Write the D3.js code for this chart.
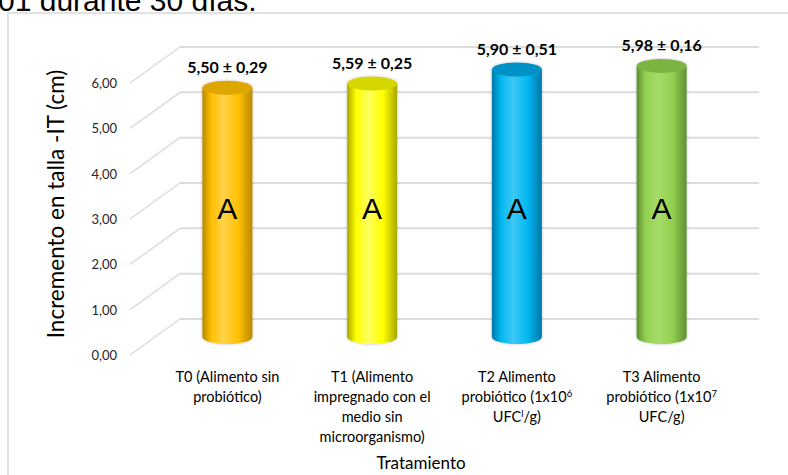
<!DOCTYPE html>
<html>
<head>
<meta charset="utf-8">
<script src="https://cdn.jsdelivr.net/npm/d3@7"></script>
<style>
  body { margin: 0; background: #fff; }
  svg { display: block; }
</style>
</head>
<body>
<div id="chart-holder"></div>
<script>
// ****DATA****
const categories = [
    ["T0 (Alimento sin", "probiótico)"],
    ["T1 (Alimento", "impregnado con el", "medio sin", "microorganismo)"],
    ["T2 Alimento", "probiótico (1x10^6", "UFC^l/g)"],
    ["T3 Alimento", "probiótico (1x10^7", "UFC/g)"]
];
const values = [5.50, 5.59, 5.90, 5.98];
const errors = [0.29, 0.25, 0.51, 0.16];
const letters = ["A", "A", "A", "A"];
const yTicks = [0, 1, 2, 3, 4, 5, 6];
const barColors = [
    {mid: "#ffc000", light: "#ffd24a", edge: "#b88a00", top: "#e0a600"},
    {mid: "#ffff00", light: "#ffff60", edge: "#a8a800", top: "#d6d600"},
    {mid: "#00b8f0", light: "#3cc8f5", edge: "#0077a8", top: "#0092c6"},
    {mid: "#92d050", light: "#a6dc6a", edge: "#5f8f33", top: "#7cb443"}
];

// ****CANVAS****
const width = 788;
const height = 475;
const backLeft = 180, backRight = 759;
const depthX = -50, depthY = 36; // oblique offset of the side wall

const svg = d3.select('#chart-holder')
    .append('svg')
    .attr('width', width)
    .attr('height', height);

// title cut off at the top of the picture
svg.append('text')
    .attr('x', -2)
    .attr('y', 11)
    .style('font-family', '"Liberation Sans", Arial, sans-serif')
    .style('font-size', '30px')
    .attr('fill', '#000')
    .text('01 durante 30 días.');

// chart frame
svg.append('rect')
    .attr('x', 8)
    .attr('y', 13)
    .attr('width', 800)
    .attr('height', 500)
    .attr('fill', 'none')
    .attr('stroke', '#d9d9d9')
    .attr('stroke-width', 1.5);

// ****SCALES****
const yScale = d3.scaleLinear()
    .domain([0, 6])
    .range([319, 47]);
// bars sit halfway into the depth
const yBar = v => yScale(v) + depthY / 2;
const xScale = d3.scaleBand()
    .domain(d3.range(categories.length))
    .range([backLeft + depthX / 2, backRight + depthX / 2]);
const xMid = i => xScale(i) + xScale.bandwidth() / 2;

const fmt = d3.formatLocale({decimal: ",", thousands: ".", grouping: [3], currency: ["", ""]}).format(".2f");

// ****GRID****
const grid = svg.append('g').attr('id', 'grid');
grid.selectAll('line.back')
    .data(yTicks)
    .join('line')
    .attr('class', 'back')
    .attr('x1', backLeft)
    .attr('x2', backRight)
    .attr('y1', d => yScale(d))
    .attr('y2', d => yScale(d))
    .attr('stroke', '#dcdcdc')
    .attr('stroke-width', 2);
grid.selectAll('line.side')
    .data(yTicks)
    .join('line')
    .attr('class', 'side')
    .attr('x1', backLeft)
    .attr('x2', backLeft + depthX)
    .attr('y1', d => yScale(d))
    .attr('y2', d => yScale(d) + depthY)
    .attr('stroke', '#dcdcdc')
    .attr('stroke-width', 1.5);

// tick labels
svg.append('g')
    .selectAll('text')
    .data(yTicks)
    .join('text')
    .attr('x', backLeft + depthX - 13)
    .attr('y', d => yScale(d) + depthY + 5)
    .attr('text-anchor', 'end')
    .style('font-family', 'Lato, sans-serif')
    .style('font-size', '13px')
    .attr('fill', '#262626')
    .text(d => fmt(d));

// ****CYLINDERS****
const defs = svg.append('defs');
barColors.forEach(function(c, i) {
    const g = defs.append('linearGradient')
        .attr('id', 'body' + i)
        .attr('x1', '0%').attr('x2', '100%')
        .attr('y1', '0%').attr('y2', '0%');
    g.append('stop').attr('offset', '0%').attr('stop-color', c.edge);
    g.append('stop').attr('offset', '18%').attr('stop-color', c.mid);
    g.append('stop').attr('offset', '42%').attr('stop-color', c.light);
    g.append('stop').attr('offset', '72%').attr('stop-color', c.mid);
    g.append('stop').attr('offset', '100%').attr('stop-color', c.edge);
});
const shadow = defs.append('filter')
    .attr('id', 'halo')
    .attr('x', '-30%').attr('y', '-10%')
    .attr('width', '160%').attr('height', '120%');
shadow.append('feDropShadow')
    .attr('dx', 0).attr('dy', 0)
    .attr('stdDeviation', 1.5)
    .attr('flood-color', '#000')
    .attr('flood-opacity', 0.25);

const rx = 25, ry = 7;
const bars = svg.append('g')
    .selectAll('g')
    .data(values)
    .join('g')
    .attr('filter', 'url(#halo)');

bars.append('path')
    .attr('fill', (d, i) => `url(#body${i})`)
    .attr('d', function(d, i) {
        const cx = xMid(i);
        const ty = yBar(d), by = yBar(0);
        return `M${cx - rx},${ty} L${cx - rx},${by} A${rx},${ry} 0 0 0 ${cx + rx},${by} L${cx + rx},${ty} Z`;
    });
bars.append('ellipse')
    .attr('cx', (d, i) => xMid(i))
    .attr('cy', d => yBar(d))
    .attr('rx', rx)
    .attr('ry', ry)
    .attr('fill', (d, i) => barColors[i].top);

// value labels
svg.append('g')
    .selectAll('text')
    .data(values)
    .join('text')
    .attr('x', (d, i) => xMid(i))
    .attr('y', d => yBar(d) - 15)
    .attr('text-anchor', 'middle')
    .style('font-family', 'Lato, sans-serif')
    .style('font-weight', 700)
    .style('font-size', '16px')
    .attr('fill', '#000')
    .text((d, i) => `${fmt(d)} ± ${fmt(errors[i])}`);

// significance letters
svg.append('g')
    .selectAll('text')
    .data(letters)
    .join('text')
    .attr('x', (d, i) => xMid(i))
    .attr('y', yScale(2.2))
    .attr('text-anchor', 'middle')
    .style('font-family', '"Liberation Sans", Arial, sans-serif')
    .style('font-size', '30px')
    .attr('fill', '#000')
    .text(d => d);

// ****CATEGORY LABELS****
// one text per line; "^x" marks a superscript character
const catGroup = svg.append('g')
    .style('font-family', 'Lato, sans-serif')
    .style('font-size', '14.5px')
    .attr('fill', '#000');
categories.forEach(function(lines, i) {
    lines.forEach(function(line, j) {
        const t = catGroup.append('text')
            .attr('text-anchor', 'middle')
            .attr('x', xMid(i))
            .attr('y', 382 + 20 * j);
        line.split(/(\^.)/).forEach(function(p) {
            if (p === '') return;
            if (p[0] === '^') {
                t.append('tspan')
                    .attr('baseline-shift', '5')
                    .style('font-size', '9.5px')
                    .text(p[1]);
            } else {
                t.append('tspan').text(p);
            }
        });
    });
});

// ****AXIS TITLES****
svg.append('text')
    .attr('transform', 'rotate(-90)')
    .attr('x', -204)
    .attr('y', 64)
    .attr('text-anchor', 'middle')
    .style('font-family', 'Lato, sans-serif')
    .style('font-size', '22.5px')
    .attr('fill', '#000')
    .text('Incremento en talla -IT (cm)');

svg.append('text')
    .attr('x', 421)
    .attr('y', 469)
    .attr('text-anchor', 'middle')
    .style('font-family', 'Lato, sans-serif')
    .style('font-size', '17px')
    .attr('fill', '#000')
    .text('Tratamiento');
</script>
</body>
</html>
